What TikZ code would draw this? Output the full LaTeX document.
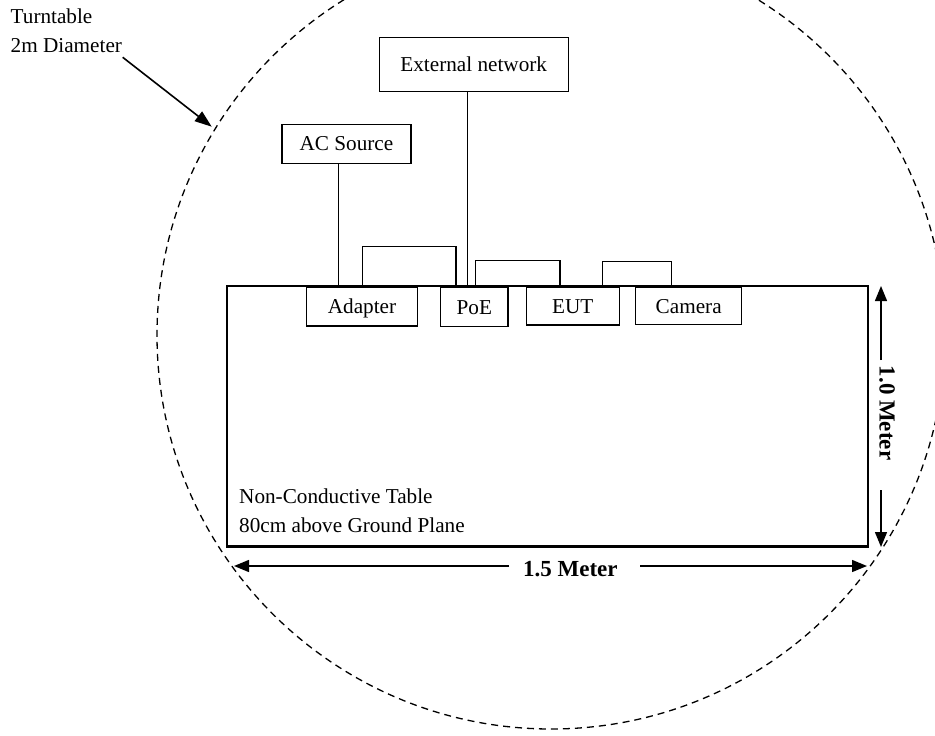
\documentclass[tikz,border=0pt]{standalone}
\usepackage{fontspec}
\setmainfont{Liberation Serif}
\usetikzlibrary{arrows.meta}
\begin{document}
\begin{tikzpicture}[x=1pt,y=-1pt,
  box/.style={draw, line width=1.1pt, inner sep=0pt, text height=14pt, text depth=0pt, font=\fontsize{21.2}{25}\selectfont},
  wire/.style={line width=1.1pt},
  dimarrow/.style={line width=1.4pt, -{Triangle[length=15pt,width=12pt]}},
  lbl/.style={font=\fontsize{21.2}{25}\selectfont, inner sep=0pt},
  dimlbl/.style={font=\fontsize{23}{27}\selectfont\bfseries, inner sep=0pt}]
\useasboundingbox (0,0) rectangle (935,736);
% turntable
\draw[line width=1.3pt, dash pattern=on 7pt off 5pt] (551,335) circle[radius=394];
% table
\node[draw, line width=2.2pt, minimum width=641pt, minimum height=260.8pt, inner sep=0pt] (table) at (547.2,416.1) {};
% equipment
\node[box, minimum width=110.6pt, minimum height=38.3pt] (adapter) at (362,306.8) {Adapter};
\node[box, minimum width=67.3pt, minimum height=38.8pt] (poe) at (474.3,307.1) {PoE};
\node[box, minimum width=93pt, minimum height=37.3pt] (eut) at (572.8,306.3) {EUT};
\node[box, minimum width=106pt, minimum height=36.6pt] (camera) at (688.7,306) {Camera};
\node[box, minimum width=189.3pt, minimum height=53.7pt] (ext) at (473.7,64.2) {External network};
\node[box, minimum width=129pt, minimum height=39pt] (ac) at (346.5,143.8) {AC Source};
% cables
\coordinate (acx) at (338.3,0);
\draw[wire] (acx |- ac.south) -- (acx |- table.north);
\coordinate (enx) at (467.3,0);
\draw[wire] (enx |- ext.south) -- (enx |- table.north);
\coordinate (b1l) at (362.7,246.7); \coordinate (b1r) at (456,246.7);
\draw[wire] (b1l |- table.north) -- (b1l) -- (b1r) -- (b1r |- table.north);
\coordinate (b2l) at (475.7,260.7); \coordinate (b2r) at (560,260.7);
\draw[wire] (b2l |- table.north) -- (b2l) -- (b2r) -- (b2r |- table.north);
\coordinate (b3l) at (602.7,261.3); \coordinate (b3r) at (671.7,261.3);
\draw[wire] (b3l |- table.north) -- (b3l) -- (b3r) -- (b3r |- table.north);
% turntable label
\node[lbl, anchor=base west] (tt1) at (10.5,23.3) {Turntable};
\node[lbl, anchor=base west] (tt2) at (10.5,52) {2m Diameter};
\coordinate (tta) at (122.7,57.3); \coordinate (ttb) at (211.7,126.7);
\draw[line width=1.6pt, -{Triangle[length=17pt,width=12pt]}] (tta) -- (ttb);
% table label
\node[lbl, anchor=base west] (nc1) at (239,503.3) {Non-Conductive Table};
\node[lbl, anchor=base west] (nc2) at (239,532.7) {80cm above Ground Plane};
% horizontal dimension
\node[dimlbl] (w15) at (570.4,569) {1.5 Meter};
\coordinate (hL) at (234,566); \coordinate (hR) at (867,566);
\coordinate (hl) at (509,566); \coordinate (hr) at (640,566);
\draw[dimarrow] (hl) -- (hL);
\draw[dimarrow] (hr) -- (hR);
% vertical dimension
\node[dimlbl, rotate=-90] (h10) at (887,413) {1.0 Meter};
\coordinate (vT) at (881,286); \coordinate (vB) at (881,547);
\coordinate (vt) at (881,360); \coordinate (vb) at (881,490);
\draw[dimarrow] (vt) -- (vT);
\draw[dimarrow] (vb) -- (vB);
\end{tikzpicture}
\end{document}
